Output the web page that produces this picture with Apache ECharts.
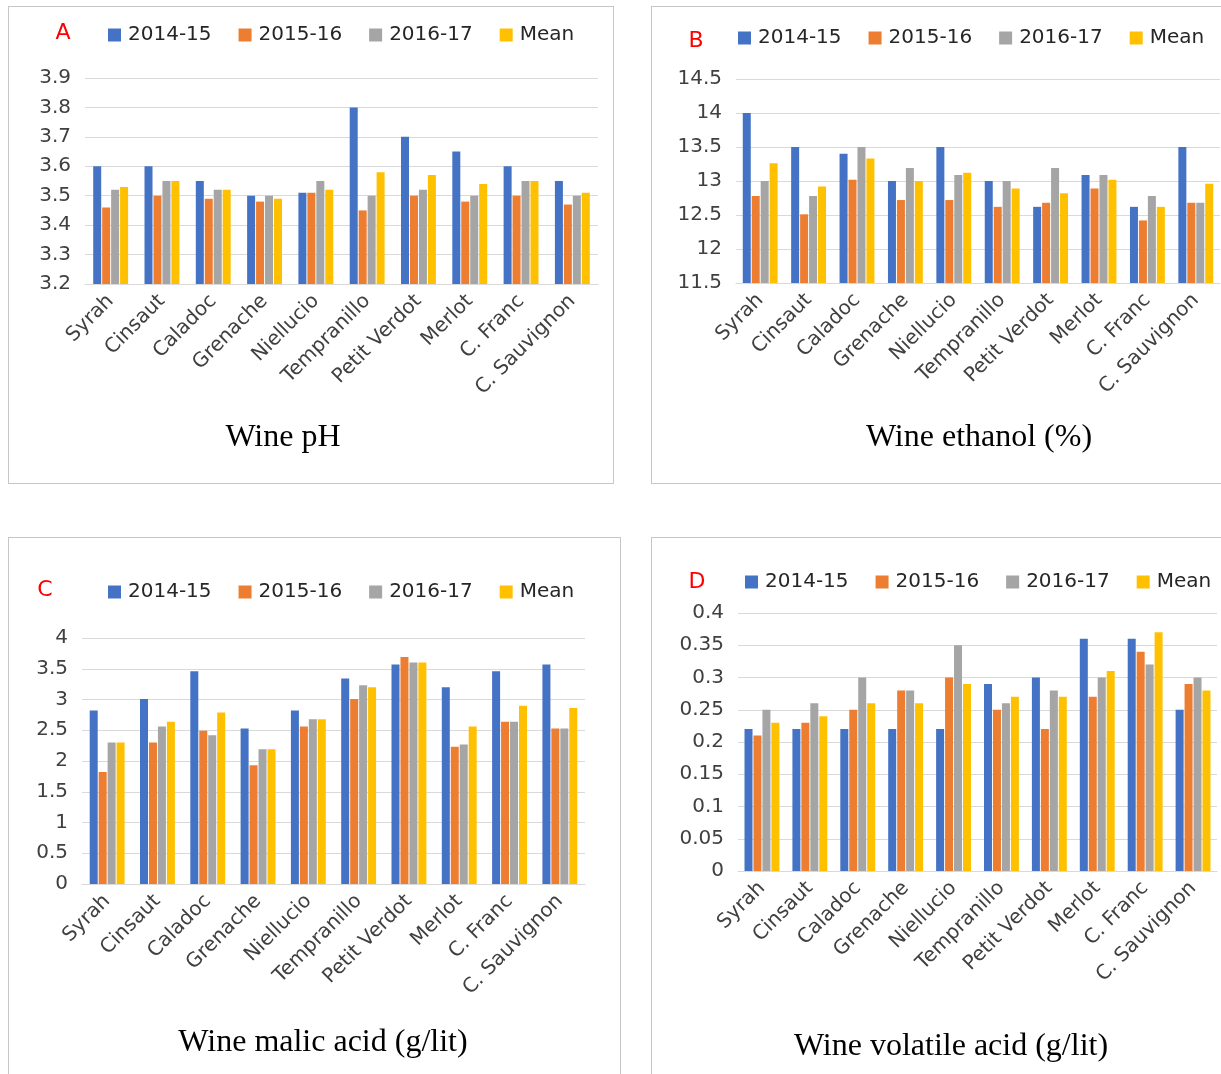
<!DOCTYPE html>
<html>
<head>
<meta charset="utf-8">
<script src="https://cdn.jsdelivr.net/npm/echarts/dist/echarts.min.js"></script>
<style>
  html, body { margin: 0; padding: 0; background: #fff; overflow: hidden; }
  .panel { position: absolute; border: 1px solid #c6c6c6; box-sizing: border-box; background: #fff; }
</style>
</head>
<body>
<div id="chartA" class="panel" style="left:8px;top:6px;width:606px;height:478px;"></div>
<div id="chartB" class="panel" style="left:651px;top:6px;width:580px;height:478px;"></div>
<div id="chartC" class="panel" style="left:8px;top:537px;width:613px;height:545px;"></div>
<div id="chartD" class="panel" style="left:651px;top:537px;width:580px;height:545px;"></div>
<script>
var categories = ['Syrah', 'Cinsaut', 'Caladoc', 'Grenache', 'Niellucio', 'Tempranillo', 'Petit Verdot', 'Merlot', 'C. Franc', 'C. Sauvignon'];
var seasons = ['2014-15', '2015-16', '2016-17', 'Mean'];
var colors = ['#4472C4', '#ED7D31', '#A5A5A5', '#FFC000'];

// A - pH
var ph1415 = [3.60, 3.60, 3.55, 3.50, 3.51, 3.80, 3.70, 3.65, 3.60, 3.55];
var ph1516 = [3.46, 3.50, 3.49, 3.48, 3.51, 3.45, 3.50, 3.48, 3.50, 3.47];
var ph1617 = [3.52, 3.55, 3.52, 3.50, 3.55, 3.50, 3.52, 3.50, 3.55, 3.50];
var phMean = [3.53, 3.55, 3.52, 3.49, 3.52, 3.58, 3.57, 3.54, 3.55, 3.51];

// B - ethanol
var eth1415 = [14.0, 13.5, 13.4, 13.0, 13.5, 13.0, 12.62, 13.09, 12.62, 13.5];
var eth1516 = [12.78, 12.51, 13.02, 12.72, 12.72, 12.62, 12.68, 12.89, 12.42, 12.68];
var eth1617 = [13.0, 12.78, 13.5, 13.19, 13.09, 13.0, 13.19, 13.09, 12.78, 12.68];
var ethMean = [13.26, 12.92, 13.33, 13.0, 13.12, 12.89, 12.82, 13.02, 12.62, 12.96];

// C - malic acid
var mal1415 = [2.82, 3.01, 3.46, 2.53, 2.82, 3.34, 3.57, 3.20, 3.46, 3.57];
var mal1516 = [1.82, 2.30, 2.49, 1.93, 2.56, 3.01, 3.69, 2.23, 2.64, 2.53];
var mal1617 = [2.30, 2.56, 2.42, 2.19, 2.68, 3.23, 3.60, 2.27, 2.64, 2.53];
var malMean = [2.30, 2.64, 2.79, 2.19, 2.68, 3.20, 3.60, 2.56, 2.90, 2.86];

// D - volatile acid
var vol1415 = [0.22, 0.22, 0.22, 0.22, 0.22, 0.29, 0.30, 0.36, 0.36, 0.25];
var vol1516 = [0.21, 0.23, 0.25, 0.28, 0.30, 0.25, 0.22, 0.27, 0.34, 0.29];
var vol1617 = [0.25, 0.26, 0.30, 0.28, 0.35, 0.26, 0.28, 0.30, 0.32, 0.30];
var volMean = [0.23, 0.24, 0.26, 0.26, 0.29, 0.27, 0.27, 0.31, 0.37, 0.28];

var charts = [];

function createPanel(id, cfg) {
    var chart = echarts.init(document.getElementById(id));
    var series = [];
    for (var i = 0; i < seasons.length; i++) {
        series.push({
            name: seasons[i],
            type: 'bar',
            data: cfg.data[i],
            barWidth: 8,
            barGap: '12%',
            itemStyle: { color: colors[i] }
        });
    }
    var option = {
        animation: false,
        backgroundColor: '#fff',
        textStyle: { fontFamily: 'DejaVu Sans' },
        legend: {
            left: cfg.legend[0],
            top: cfg.legend[1],
            icon: 'rect',
            itemWidth: 13,
            itemHeight: 13,
            itemGap: 27,
            textStyle: { fontSize: 20, color: '#262626', fontFamily: 'DejaVu Sans', padding: [0, 0, 0, 2] },
            data: seasons
        },
        grid: cfg.grid,
        xAxis: {
            type: 'category',
            data: categories,
            axisLine: { lineStyle: { color: '#d9d9d9', width: 1 } },
            axisTick: { show: false },
            axisLabel: {
                interval: 0,
                rotate: 45,
                margin: 14,
                fontSize: 20,
                color: '#404040',
                fontFamily: 'DejaVu Sans'
            }
        },
        yAxis: {
            type: 'value',
            min: cfg.y[0],
            max: cfg.y[1],
            interval: cfg.y[2],
            axisLine: { show: false },
            axisTick: { show: false },
            splitLine: { lineStyle: { color: '#d9d9d9', width: 1 } },
            axisLabel: {
                margin: 14,
                fontSize: 20,
                color: '#404040',
                fontFamily: 'DejaVu Sans'
            }
        },
        graphic: [
            {
                type: 'text',
                x: cfg.letter[1],
                y: cfg.letter[2],
                style: {
                    text: cfg.letter[0],
                    fill: '#ff0000',
                    font: '22px "DejaVu Sans"',
                    textAlign: 'center',
                    textVerticalAlign: 'middle'
                }
            },
            {
                type: 'text',
                x: cfg.title[1],
                y: cfg.title[2],
                style: {
                    text: cfg.title[0],
                    fill: '#000',
                    font: '32px "Liberation Serif"',
                    textAlign: 'center',
                    textVerticalAlign: 'middle'
                }
            }
        ],
        series: series
    };
    chart.setOption(option);
    charts.push(chart);
}

createPanel('chartA', {
    data: [ph1415, ph1516, ph1617, phMean],
    y: [3.2, 3.9, 0.1],
    grid: { left: 76, right: 15, top: 71, height: 206 },
    legend: [94, 13],
    letter: ['A', 54, 26],
    title: ['Wine pH', 274, 431]
});

createPanel('chartB', {
    data: [eth1415, eth1516, eth1617, ethMean],
    y: [11.5, 14.5, 0.5],
    grid: { left: 84, right: 10, top: 72, height: 204 },
    legend: [81, 16],
    letter: ['B', 44, 34],
    title: ['Wine ethanol (%)', 327, 431]
});

createPanel('chartC', {
    data: [mal1415, mal1516, mal1617, malMean],
    y: [0, 4, 0.5],
    grid: { left: 73, right: 35, top: 100, height: 246 },
    legend: [94, 39],
    letter: ['C', 36, 52],
    title: ['Wine malic acid (g/lit)', 314, 505]
});

createPanel('chartD', {
    data: [vol1415, vol1516, vol1617, volMean],
    y: [0, 0.4, 0.05],
    grid: { left: 86, right: 13, top: 75, height: 258 },
    legend: [88, 29],
    letter: ['D', 45, 44],
    title: ['Wine volatile acid (g/lit)', 299, 509]
});

window.addEventListener('resize', function () {
    charts.forEach(function (c) { c.resize(); });
});
</script>
</body>
</html>
